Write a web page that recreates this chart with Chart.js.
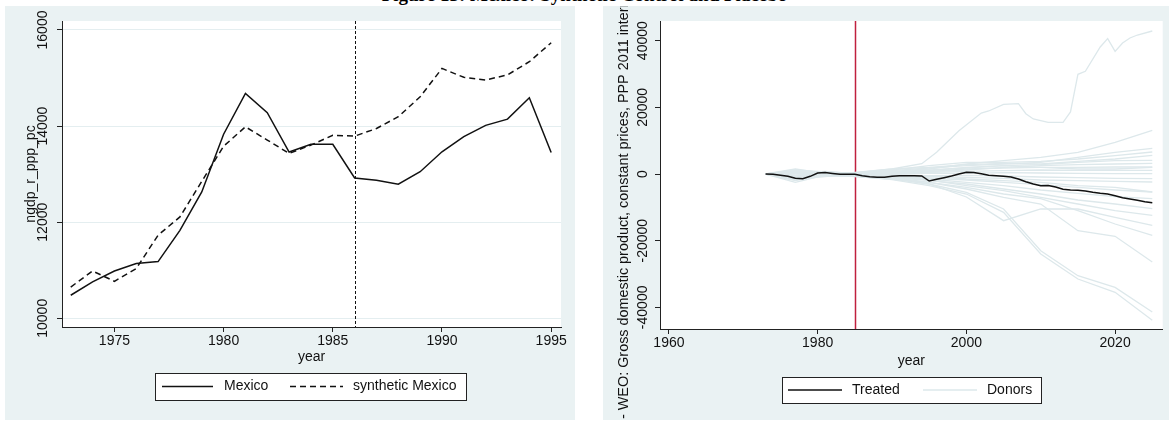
<!DOCTYPE html>
<html>
<head>
<meta charset="utf-8">
<script src="https://cdn.jsdelivr.net/npm/chart.js@4.4.1/dist/chart.umd.min.js"></script>
<style>
  body { margin: 0; background: #fff; width: 1169px; height: 422px; overflow: hidden; position: relative; }
  .panel { position: absolute; background: #eaf2f3; }
  #title { position: absolute; left: 0; top: -16px; width: 1169px; text-align: center; white-space: nowrap;
           font: bold 19px "Liberation Serif", "Times New Roman", serif; color: #000; }
</style>
</head>
<body>
<div id="title">Figure 13: Mexico: Synthetic Control and Placebo</div>
<div class="panel" style="left:5px;top:6px;width:570px;height:414px"><canvas id="synth"></canvas></div>
<div class="panel" style="left:603px;top:6px;width:566px;height:414px"><canvas id="placebo"></canvas></div>
<script>
// ---- left panel: Mexico vs synthetic Mexico ----
const years = [1973, 1974, 1975, 1976, 1977, 1978, 1979, 1980, 1981, 1982, 1983, 1984,
               1985, 1986, 1987, 1988, 1989, 1990, 1991, 1992, 1993, 1994, 1995];
const mexico = [10480, 10760, 10985, 11140, 11180, 11830, 12630, 13830, 14680, 14280, 13460, 13620,
                13620, 12920, 12875, 12790, 13050, 13465, 13780, 14015, 14145, 14590, 13450];
const synthMexico = [10650, 10985, 10770, 11035, 11730, 12110, 12850, 13580, 13985, 13710, 13430, 13605,
                     13810, 13790, 13950, 14195, 14610, 15200, 15015, 14960, 15065, 15340, 15735];
const synthXTicks = [1975, 1980, 1985, 1990, 1995];
const synthYTicks = [10000, 12000, 14000, 16000];
const synthTreatYear = 1986;

// ---- right panel: placebo, treated vs donors ----
function range(a, b) { let r = []; for (let i = a; i <= b; i++) r.push(i); return r; }
const treatedYears = range(1973, 2025);
const treated = [0, -100, -350, -700, -1300, -1400, -700, 300, 450, 150, -100, -50,
                 -100, -500, -800, -950, -1000, -700, -500, -500, -500, -600, -2100, -1600,
                 -1100, -600, 0, 500, 450, 100, -350, -500, -700, -900, -1500, -2300,
                 -3000, -3500, -3450, -3900, -4600, -4800, -4900, -5100, -5500, -5800, -6000, -6500,
                 -7100, -7500, -7900, -8300, -8600];

const outlierYears = [1973, 1980, 1985, 1990, 1994, 1996, 1999, 2002, 2003, 2005, 2007, 2008, 2009,
                      2011, 2013, 2014, 2015, 2016, 2018, 2019, 2020, 2021, 2022, 2023, 2025];
const outlierDonor = [0, 400, 300, 1500, 3100, 6500, 13000, 18300, 18900, 20900, 21100, 18100, 16500,
                      15500, 15500, 18600, 29900, 30800, 38100, 40600, 36800, 39300, 40800, 41700, 42900];

const donorYears = [1973, 1977, 1981, 1985, 1990, 1995, 2000, 2005, 2010, 2015, 2020, 2025];
const donor02 = [0, 300, 600, 200, 800, 1500, 3000, 4000, 5000, 6500, 9500, 13100];
const donor03 = [0, -400, 500, 300, 1000, 1800, 2500, 3000, 3500, 5000, 6500, 7700];
const donor04 = [0, 600, -200, 400, 1200, 2500, 3500, 3500, 3800, 4500, 5500, 6600];
const donor05 = [0, -800, 300, 500, 1500, 2000, 2800, 3200, 3000, 3800, 4500, 5600];
const donor06 = [0, 400, 800, 100, 600, 1200, 1800, 2500, 2800, 3500, 4000, 4100];
const donor07 = [0, -1000, -300, 200, 500, 800, 1200, 2000, 2500, 2800, 3000, 3200];
const donor08 = [0, 800, 200, 0, 300, 700, 1500, 1800, 2000, 2000, 2100, 2100];
const donor09 = [0, -600, -100, 300, 200, 500, 800, 1000, 1200, 1100, 1100, 1100];
const donor10 = [0, 1200, 600, -100, 100, 300, 200, 400, 300, 200, 100, 100];
const donor11 = [0, -1500, -800, 200, -300, -500, -400, -600, -900, -1100, -1300, -1400];
const donor12 = [0, 500, -400, -200, -500, -800, -1000, -1300, -1800, -2000, -2200, -2400];
const donor13 = [0, -1800, 200, -300, -600, -1200, -1800, -2500, -3200, -4000, -4800, -5400];
const donor14 = [0, 900, -600, -500, -900, -1500, -2500, -3500, -4800, -5800, -6800, -7400];
const donor15 = [0, -1200, -200, -400, -1000, -2000, -3000, -4500, -6000, -7800, -9000, -10400];
const donor16 = [0, 300, 100, -300, -800, -1800, -3500, -5000, -7000, -9000, -11000, -12400];
const donor17 = [0, -2500, -300, -600, -1200, -3000, -6900, -14000, -10500, -10500, -13000, -15400];
const donor18 = [0, -700, -500, -700, -1500, -2500, -4000, -6000, -7400, -11000, -15000, -18400];
const donor19 = [0, 1500, 200, -300, -1000, -2500, -4500, -7000, -9000, -17000, -18700, -26400];
const donor20 = [0, -2000, -200, -800, -1500, -3000, -5500, -10500, -23000, -30500, -34000, -41400];
const donor21 = [0, -1200, -400, -600, -1700, -3500, -6000, -11500, -24000, -31500, -35500, -43900];
const donor22 = [0, 700, 300, 0, 500, 1000, 2000, 2500, 2000, 1500, 1500, 2000];
const donor23 = [0, -300, -100, 100, -200, -600, -1500, -2000, -2500, -3500, -4000, -5400];
const donorSeries = [donor02, donor03, donor04, donor05, donor06, donor07, donor08, donor09, donor10,
                     donor11, donor12, donor13, donor14, donor15, donor16, donor17, donor18, donor19,
                     donor20, donor21, donor22, donor23];
const placeboXTicks = [1960, 1980, 2000, 2020];
const placeboYTicks = [-40000, -20000, 0, 20000, 40000];
const placeboTreatYear = 1985;

const FONT = '"Liberation Sans", Arial, sans-serif';
const AXIS = '#222';
const DONOR = '#dde8eb';

function toPoints(xs, ys) {
    return xs.map((x, i) => ({x: x, y: ys[i]}));
}

// white plot region on top of the grey panel
const plotBg = {
    id: 'plotBg',
    beforeDraw(chart) {
        const a = chart.chartArea, ctx = chart.ctx;
        ctx.save();
        ctx.fillStyle = '#fff';
        ctx.fillRect(a.left, a.top, a.right - a.left, a.bottom - a.top);
        ctx.restore();
    }
};

// stata style y labels, turned on their side
function sideLabels(xPos) {
    return {
        id: 'sideLabels',
        afterDraw(chart) {
            const ctx = chart.ctx, y = chart.scales.y;
            ctx.save();
            ctx.font = '14px ' + FONT;
            ctx.fillStyle = '#111';
            ctx.textAlign = 'center';
            ctx.textBaseline = 'middle';
            y.ticks.forEach(t => {
                ctx.save();
                ctx.translate(xPos, y.getPixelForValue(t.value));
                ctx.rotate(-Math.PI / 2);
                ctx.fillText(String(t.value), 0, 0);
                ctx.restore();
            });
            ctx.restore();
        }
    };
}

// vertical marker at the treatment year
function eventLine(year, color, dash, width) {
    return {
        id: 'eventLine',
        beforeDatasetsDraw(chart) {
            const ctx = chart.ctx, a = chart.chartArea;
            const x = Math.round(chart.scales.x.getPixelForValue(year)) + 0.5;
            ctx.save();
            ctx.strokeStyle = color;
            ctx.lineWidth = width;
            ctx.setLineDash(dash);
            ctx.beginPath();
            ctx.moveTo(x, a.top);
            ctx.lineTo(x, a.bottom);
            ctx.stroke();
            ctx.restore();
        }
    };
}

// boxed legend under the axis
function legendBox(box, items) {
    return {
        id: 'legendBox',
        afterDraw(chart) {
            const ctx = chart.ctx;
            const cy = box.y + box.h / 2;
            ctx.save();
            ctx.fillStyle = '#fff';
            ctx.fillRect(box.x, box.y, box.w, box.h);
            ctx.strokeStyle = AXIS;
            ctx.lineWidth = 1;
            ctx.strokeRect(box.x + 0.5, box.y + 0.5, box.w, box.h);
            items.forEach(it => {
                const ds = chart.data.datasets[it.dataset];
                ctx.strokeStyle = ds.borderColor;
                ctx.lineWidth = ds.borderWidth;
                ctx.setLineDash(ds.borderDash || []);
                ctx.beginPath();
                ctx.moveTo(it.x0, cy);
                ctx.lineTo(it.x1, cy);
                ctx.stroke();
                ctx.setLineDash([]);
                ctx.fillStyle = '#111';
                ctx.font = '14px ' + FONT;
                ctx.textAlign = 'left';
                ctx.textBaseline = 'middle';
                ctx.fillText(ds.label, it.tx, cy);
            });
            ctx.restore();
        }
    };
}

// long y title that runs off the panel
function longTitle(text, x, yStart) {
    return {
        id: 'longTitle',
        afterDraw(chart) {
            const ctx = chart.ctx;
            ctx.save();
            ctx.translate(x, yStart);
            ctx.rotate(-Math.PI / 2);
            ctx.font = '14.4px ' + FONT;
            ctx.fillStyle = '#111';
            ctx.textAlign = 'left';
            ctx.textBaseline = 'middle';
            ctx.fillText(text, 0, 0);
            ctx.restore();
        }
    };
}

function makeScales(o) {
    return {
        x: {
            type: 'linear',
            min: o.xMin, max: o.xMax,
            afterBuildTicks: s => { s.ticks = o.xTicks.map(v => ({value: v})); },
            afterFit: s => { s.height = o.xHeight; },
            grid: { drawOnChartArea: false, tickLength: 5, tickColor: AXIS },
            border: { color: AXIS, width: 1 },
            ticks: { color: '#111', font: { family: FONT, size: 14 }, padding: 1, maxRotation: 0,
                     callback: v => String(v) },
            title: { display: true, text: 'year', color: '#111', font: { family: FONT, size: 14 },
                     padding: { top: 0, bottom: 0 } }
        },
        y: {
            type: 'linear',
            min: o.yMin, max: o.yMax,
            afterBuildTicks: s => { s.ticks = o.yTicks.map(v => ({value: v})); },
            afterFit: s => { s.width = 57; },
            grid: { drawOnChartArea: o.yGrid, color: '#e4eef0', tickLength: 5, tickColor: AXIS },
            border: { color: AXIS, width: 1 },
            ticks: { display: false },
            title: { display: !!o.yTitle, text: o.yTitle || '', color: '#111',
                     font: { family: FONT, size: 14 }, padding: { top: 18, bottom: 0 } }
        }
    };
}

// left chart
new Chart(document.getElementById('synth'), {
    type: 'line',
    data: {
        datasets: [
            { label: 'Mexico', data: toPoints(years, mexico), borderColor: '#111', borderWidth: 1.5,
              pointRadius: 0, tension: 0 },
            { label: 'synthetic Mexico', data: toPoints(years, synthMexico), borderColor: '#111',
              borderWidth: 1.5, borderDash: [6, 4], pointRadius: 0, tension: 0 }
        ]
    },
    options: {
        responsive: true, maintainAspectRatio: false, animation: false, devicePixelRatio: 1,
        layout: { padding: { left: 0, top: 15, right: 14, bottom: 54.6 } },
        plugins: { legend: { display: false }, tooltip: { enabled: false } },
        scales: makeScales({ xMin: 1972.6, xMax: 1995.45, xTicks: synthXTicks, xHeight: 38.4,
                             yMin: 9819, yMax: 16187, yTicks: synthYTicks, yGrid: true,
                             yTitle: 'ngdp_r_ppp_pc' })
    },
    plugins: [plotBg, sideLabels(38.3), eventLine(synthTreatYear, '#111', [3, 2], 1),
              legendBox({ x: 150, y: 367, w: 311, h: 27 }, [
                  { dataset: 0, x0: 157, x1: 208, tx: 219 },
                  { dataset: 1, x0: 285, x1: 338, tx: 348 }
              ])]
});

// right chart
let placeboSets = [
    { label: 'Treated', data: toPoints(treatedYears, treated), borderColor: '#111', borderWidth: 1.5,
      pointRadius: 0, tension: 0 },
    { label: 'Donors', data: toPoints(outlierYears, outlierDonor), borderColor: DONOR, borderWidth: 1.3,
      pointRadius: 0, tension: 0 }
];
donorSeries.forEach(d => {
    placeboSets.push({ label: 'Donors', data: toPoints(donorYears, d), borderColor: DONOR, borderWidth: 1.3,
                       pointRadius: 0, tension: 0 });
});

new Chart(document.getElementById('placebo'), {
    type: 'line',
    data: { datasets: placeboSets },
    options: {
        responsive: true, maintainAspectRatio: false, animation: false, devicePixelRatio: 1,
        layout: { padding: { left: 0, top: 15, right: 6.3, bottom: 50.6 } },
        plugins: { legend: { display: false }, tooltip: { enabled: false } },
        scales: makeScales({ xMin: 1958.8, xMax: 2026.4, xTicks: placeboXTicks, xHeight: 40.4,
                             yMin: -46500, yMax: 45900, yTicks: placeboYTicks, yGrid: false })
    },
    plugins: [plotBg, sideLabels(40.3), eventLine(placeboTreatYear, '#c0203f', [], 1.5),
              longTitle('- WEO: Gross domestic product, constant prices, PPP 2011 international dollars', 21.5, 413),
              legendBox({ x: 179, y: 371, w: 259, h: 26 }, [
                  { dataset: 0, x0: 185, x1: 239, tx: 249 },
                  { dataset: 1, x0: 320, x1: 374, tx: 384 }
              ])]
});
</script>
</body>
</html>
